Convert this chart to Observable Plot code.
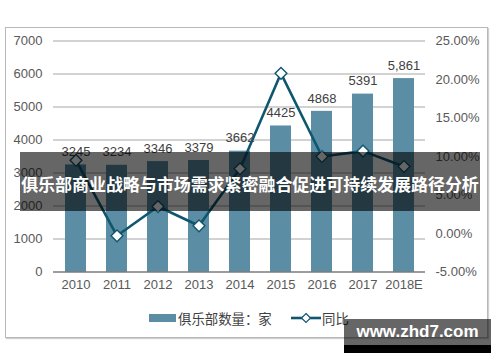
<!DOCTYPE html>
<html>
<head>
<meta charset="utf-8">
<script src="https://cdn.jsdelivr.net/npm/d3@7"></script>
<script src="https://cdn.jsdelivr.net/npm/@observablehq/plot@0.6"></script>
<style>
  body { margin: 0; background: #fff; }
  #wrap { position: relative; width: 500px; height: 362px; overflow: hidden; font-family: "Liberation Sans", Arial, sans-serif; }
  #chart { position: absolute; left: 0; top: 0; }
  #frame { position: absolute; left: 5px; top: 27px; width: 483px; height: 311px; box-sizing: border-box; border: 1.5px solid #b8b8b8; box-shadow: 1px 1px 1px #d0d0d0; pointer-events: none; }
  #band { position: absolute; left: 20px; top: 152px; width: 460px; height: 59px; background: rgba(0,0,0,0.6); color: #fff; font-family: "Noto Sans CJK SC", sans-serif; font-weight: bold; font-size: 17px; line-height: 59px; text-align: center; white-space: nowrap; letter-spacing: -0.05px; }
  #band span { position: relative; top: 2px; }
  #legend { position: absolute; left: 0; top: 308px; width: 500px; height: 20px; font-family: "Noto Sans CJK SC", sans-serif; font-size: 13.4px; color: #404040; }
  #wm { position: absolute; left: 344px; top: 319px; width: 147px; height: 26px; background: rgba(0,0,0,0.6); color: #fff; font-family: "Liberation Sans", Arial, sans-serif; font-weight: bold; font-size: 17px; line-height: 26px; text-align: center; }
  #wmbar { position: absolute; left: 344px; top: 345px; width: 147px; height: 8px; background: #000; }
</style>
</head>
<body>
<div id="wrap">
  <div id="chart"></div>
  <div id="frame"></div>
  <div id="legend"></div>
  <div id="band"><span id="title"></span></div>
  <div id="wm">www.zhd7.com</div>
  <div id="wmbar"></div>
</div>
<script>
const years = ["2010", "2011", "2012", "2013", "2014", "2015", "2016", "2017", "2018E"];
const clubs = [3245, 3234, 3346, 3379, 3662, 4425, 4868, 5391, 5861];
const clubLabels = ["3245", "3234", "3346", "3379", "3662", "4425", "4868", "5391", "5,861"];
const growth = [9.5, -0.3, 3.5, 1.0, 8.4, 20.8, 10.0, 10.7, 8.7];
const leftTicks = [0, 1000, 2000, 3000, 4000, 5000, 6000, 7000];
const rightTicks = [-5, 0, 5, 10, 15, 20, 25];
const titleText = "俱乐部商业战略与市场需求紧密融合促进可持续发展路径分析";
const seriesBar = "俱乐部数量：家";
const seriesLine = "同比";

const barColor = "#5b8da5";
const lineColor = "#0f566f";

// map percentage onto the left (count) scale: -5% -> 0, 25% -> 7000
const pctToY = p => (p + 5) * 7000 / 30;
const yToPct = v => v * 30 / 7000 - 5;

const data = years.map((y, i) => ({year: y, count: clubs[i], label: clubLabels[i], g: pctToY(growth[i])}));

const chart = Plot.plot({
  width: 500,
  height: 362,
  marginLeft: 53,
  marginRight: 75,
  marginTop: 40.5,
  marginBottom: 90.5,
  style: {fontFamily: "'Liberation Sans', Arial, sans-serif", background: "transparent"},
  x: {domain: years, paddingInner: 0.49, paddingOuter: 0.245, label: null},
  y: {domain: [0, 7000], label: null},
  marks: [
    Plot.ruleY(leftTicks.slice(1), {stroke: "#a6a6a6", strokeWidth: 1}),
    Plot.barY(data, {x: "year", y: "count", fill: barColor}),
    Plot.ruleY([0], {stroke: "#3a3a3a", strokeWidth: 1.2}),
    Plot.line(data, {x: "year", y: "g", stroke: lineColor, strokeWidth: 2.6}),
    Plot.dot(data, {x: "year", y: "g", symbol: "diamond2", r: 5.3, fill: "white", stroke: lineColor, strokeWidth: 1.4}),
    Plot.text(data, {x: "year", y: "count", text: "label", dy: -13, fontSize: 13, fill: "#404040"}),
    Plot.axisY({anchor: "left", ticks: leftTicks, tickSize: 0, tickPadding: 11, fontSize: 13, fill: "#595959", tickFormat: d => String(d), label: null}),
    Plot.axisY({anchor: "right", ticks: rightTicks.map(pctToY), tickSize: 0, tickPadding: 10, fontSize: 13, fill: "#595959", tickFormat: d => yToPct(d).toFixed(2) + "%", label: null}),
    Plot.axisX({tickSize: 0, tickPadding: 8, fontSize: 13, fill: "#595959", label: null})
  ]
});
document.getElementById("chart").appendChild(chart);
document.getElementById("title").textContent = titleText;

// legend
const legend = document.getElementById("legend");
legend.innerHTML = `
  <svg width="500" height="20" style="position:absolute;left:0;top:0">
    <rect x="149" y="6" width="27" height="8" fill="${barColor}"></rect>
    <line x1="291" y1="10" x2="321" y2="10" stroke="${lineColor}" stroke-width="2.6"></line>
    <path d="M306,5.5 L310.5,10 L306,14.5 L301.5,10 Z" fill="white" stroke="${lineColor}" stroke-width="1.2"></path>
  </svg>
  <span style="position:absolute;left:178px;top:0;line-height:20px">${seriesBar}</span>
  <span style="position:absolute;left:322px;top:0;line-height:20px">${seriesLine}</span>`;
</script>
</body>
</html>
